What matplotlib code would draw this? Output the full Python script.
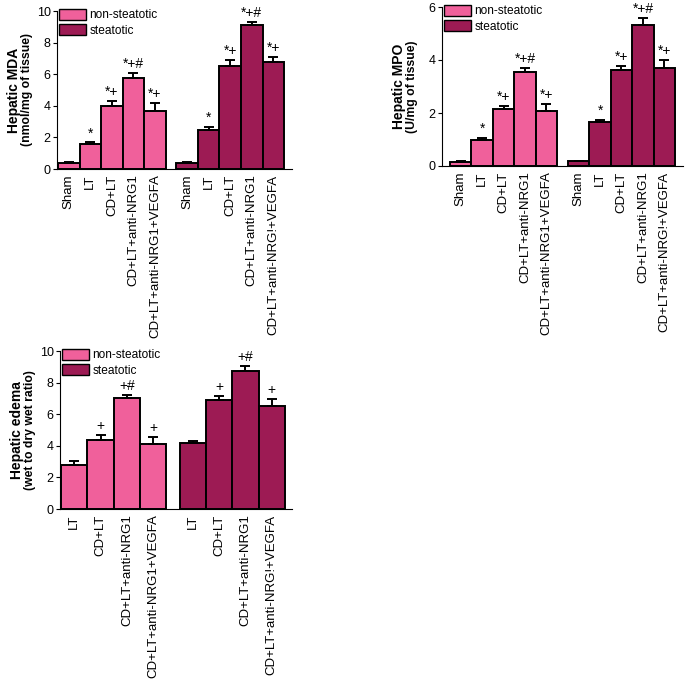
import numpy as np
import matplotlib
matplotlib.use('Agg')
import matplotlib.pyplot as plt
from matplotlib.patches import Patch

plt.rcParams['font.family'] = ['Liberation Sans', 'DejaVu Sans']

PINK = '#F0609B'
MAROON = '#9D1B54'

# ---- data ----
groups5 = ['Sham', 'LT', 'CD+LT', 'CD+LT+anti-NRG1', 'CD+LT+anti-NRG1+VEGFA']
groups5_st = ['Sham', 'LT', 'CD+LT', 'CD+LT+anti-NRG1', 'CD+LT+anti-NRG!+VEGFA']
groups4 = ['LT', 'CD+LT', 'CD+LT+anti-NRG1', 'CD+LT+anti-NRG1+VEGFA']
groups4_st = ['LT', 'CD+LT', 'CD+LT+anti-NRG1', 'CD+LT+anti-NRG!+VEGFA']

mda_non = [0.35, 1.6, 4.0, 5.75, 3.7]
mda_non_err = [0.07, 0.08, 0.3, 0.35, 0.45]
mda_st = [0.4, 2.5, 6.5, 9.1, 6.8]
mda_st_err = [0.07, 0.15, 0.4, 0.18, 0.3]
mda_marks = ['', '*', '*+', '*+#', '*+']

mpo_non = [0.15, 0.97, 2.15, 3.55, 2.08]
mpo_non_err = [0.03, 0.1, 0.12, 0.15, 0.25]
mpo_st = [0.18, 1.66, 3.62, 5.32, 3.71]
mpo_st_err = [0.02, 0.08, 0.15, 0.25, 0.3]
mpo_marks = ['', '*', '*+', '*+#', '*+']

edema_non = [2.8, 4.35, 7.0, 4.1]
edema_non_err = [0.25, 0.35, 0.2, 0.45]
edema_st = [4.15, 6.9, 8.72, 6.52]
edema_st_err = [0.15, 0.25, 0.3, 0.45]
edema_marks = ['', '+', '+#', '+']


def panel(ax, non, non_err, st, st_err, labels_non, labels_st, marks,
          ymax, yticks, ylab1, ylab2, xlim):
    n = len(non)
    x_non = np.arange(n)
    x_st = np.arange(n) + n + 0.5
    for xs, vals, errs, col in [(x_non, non, non_err, PINK), (x_st, st, st_err, MAROON)]:
        ax.bar(xs, vals, width=1.0, color=col, edgecolor='black', linewidth=1.4, zorder=2)
        ax.errorbar(xs, vals, yerr=[np.zeros(n), errs], fmt='none', ecolor='black',
                    elinewidth=1.4, capsize=3.4, capthick=1.4, zorder=3)
        for xi, v, e, m in zip(xs, vals, errs, marks):
            if m:
                ax.annotate(m, (xi, v + e), xytext=(0, 1.5), textcoords='offset points',
                            ha='center', va='bottom', fontsize=10)
    ax.set_xticks(np.concatenate([x_non, x_st]))
    ax.set_xticklabels(list(labels_non) + list(labels_st), rotation=90, fontsize=9.5)
    ax.tick_params(axis='x', length=0, pad=4)
    ax.tick_params(axis='y', length=3, width=0.8, labelsize=9, pad=1.5)
    ax.set_ylim(0, ymax)
    ax.set_yticks(yticks)
    ax.set_xlim(*xlim)
    for s in ['top', 'right']:
        ax.spines[s].set_visible(False)
    for s in ['left', 'bottom']:
        ax.spines[s].set_linewidth(0.8)
    w = ax.get_position().width * 685
    ax.text(-43 / w, 0.5, ylab1, transform=ax.transAxes, rotation=90, ha='center',
            va='center', fontsize=10, fontweight='bold')
    ax.text(-30 / w, 0.5, ylab2, transform=ax.transAxes, rotation=90, ha='center',
            va='center', fontsize=8.8, fontweight='bold')
    handles = [Patch(facecolor=PINK, edgecolor='black', linewidth=1.0, label='non-steatotic'),
               Patch(facecolor=MAROON, edgecolor='black', linewidth=1.0, label='steatotic')]
    ax.legend(handles=handles, loc='upper left', bbox_to_anchor=(0.0, 1.03), frameon=False,
              fontsize=8.6, handlelength=2.2, handleheight=1.05, handletextpad=0.3,
              labelspacing=0.25, borderaxespad=0, borderpad=0.2)


fig = plt.figure(figsize=(6.85, 6.81), dpi=100)
ax1 = fig.add_axes([57 / 685, 1 - 169 / 681, 235 / 685, 158 / 681])
ax2 = fig.add_axes([442 / 685, 1 - 166 / 681, 241 / 685, 159 / 681])
ax3 = fig.add_axes([60 / 685, 1 - 509 / 681, 232 / 685, 158 / 681])

panel(ax1, mda_non, mda_non_err, mda_st, mda_st_err, groups5, groups5_st, mda_marks,
      10, [0, 2, 4, 6, 8, 10], 'Hepatic MDA', '(nmol/mg of tissue)', (-0.55, 10.37))
panel(ax2, mpo_non, mpo_non_err, mpo_st, mpo_st_err, groups5, groups5_st, mpo_marks,
      6, [0, 2, 4, 6], 'Hepatic MPO', '(U/mg of tissue)', (-0.87, 10.37))
panel(ax3, edema_non, edema_non_err, edema_st, edema_st_err, groups4, groups4_st, edema_marks,
      10, [0, 2, 4, 6, 8, 10], 'Hepatic edema', '(wet to dry wet ratio)', (-0.54, 8.27))

fig.savefig('out.png', dpi=100)
